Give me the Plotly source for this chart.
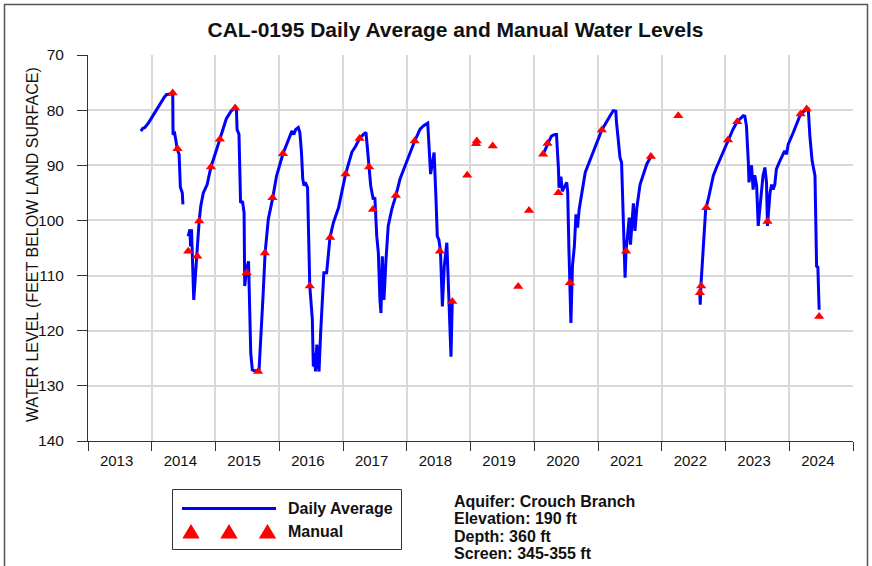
import pandas as pd
import plotly.graph_objects as go

# ---------------- data (decimal years) ----------------
daily_years = [
    2013.83, 2013.86, 2013.89, 2013.95, 2014.02, 2014.09, 2014.155, 2014.20, 2014.23, 2014.31, 2014.33,
    2014.335, 2014.36, 2014.38, 2014.40, 2014.43, 2014.45, 2014.48, 2014.49,
    None,
    2014.573, 2014.60, 2014.61, 2014.625, 2014.66, 2014.68, 2014.70, 2014.72, 2014.745, 2014.77, 2014.81,
    2014.87, 2014.93, 2015.02, 2015.07, 2015.17, 2015.25, 2015.305, 2015.33, 2015.34, 2015.37, 2015.395,
    2015.425, 2015.45, 2015.46, 2015.49, 2015.52, 2015.53, 2015.555, 2015.58, 2015.62, 2015.685, 2015.72,
    2015.75, 2015.78, 2015.83, 2015.90, 2015.96, 2016.06, 2016.14, 2016.20, 2016.23, 2016.26, 2016.30,
    2016.325, 2016.35, 2016.37, 2016.39, 2016.41, 2016.445, 2016.47, 2016.48, 2016.52, 2016.535, 2016.55,
    2016.57, 2016.59, 2016.625, 2016.65, 2016.70, 2016.744, 2016.796, 2016.85, 2016.93, 2017.04, 2017.14,
    2017.20, 2017.26, 2017.32, 2017.36, 2017.38, 2017.41, 2017.435, 2017.475, 2017.50, 2017.53, 2017.555,
    2017.58, 2017.596, 2017.617, 2017.643, 2017.675, 2017.71, 2017.765, 2017.83, 2017.895, 2018.00,
    2018.125, 2018.21, 2018.26, 2018.33, 2018.35, 2018.375, 2018.405, 2018.43, 2018.46, 2018.48, 2018.505,
    2018.53, 2018.56, 2018.59, 2018.63, 2018.65, 2018.68, 2018.695, 2018.715,
    None,
    2020.14, 2020.21, 2020.27, 2020.325, 2020.35, 2020.38, 2020.39, 2020.42, 2020.44, 2020.51, 2020.525,
    2020.545, 2020.56, 2020.576, 2020.60, 2020.63, 2020.655, 2020.68, 2020.705, 2020.745, 2020.80, 2020.85,
    2021.06, 2021.19, 2021.24, 2021.28, 2021.29, 2021.32, 2021.345, 2021.37, 2021.40, 2021.41, 2021.425,
    2021.44, 2021.46, 2021.49, 2021.51, 2021.555, 2021.58, 2021.61, 2021.66, 2021.70, 2021.765, 2021.83,
    None,
    2022.595, 2022.605, 2022.615, 2022.65, 2022.69, 2022.73, 2022.81, 2022.86, 2022.94, 2023.04, 2023.12,
    2023.185, 2023.28, 2023.305, 2023.33, 2023.36, 2023.37, 2023.41, 2023.435, 2023.46, 2023.49, 2023.515,
    2023.57, 2023.59, 2023.62, 2023.645, 2023.66, 2023.70, 2023.725, 2023.75, 2023.775, 2023.80, 2023.855,
    2023.93, 2023.96, 2023.985, 2024.065, 2024.18, 2024.275, 2024.30, 2024.325, 2024.36, 2024.405, 2024.43,
    2024.45, 2024.47,
]
daily_levels = [
    83.8, 83.3, 83.2, 82.3, 81.0, 79.6, 78.3, 77.6, 77.2, 77.1, 77.0,
    84.4, 84.2, 85.5, 87.1, 88.0, 94.0, 95.0, 97.1,
    None,
    102.9, 101.6, 104.7, 101.6, 114.4, 110.7, 108.3, 105.3, 100.1, 97.4, 95.0,
    93.5, 90.3, 87.1, 85.3, 81.6, 80.1, 79.7, 79.8, 83.5, 84.4, 96.8,
    96.5, 98.6, 111.9, 108.9, 107.4, 111.9, 124.1, 127.1, 127.3, 127.1, 120.4,
    113.2, 105.9, 99.8, 95.9, 91.9, 87.9, 85.6, 83.8, 84.4, 83.5, 83.15,
    84.05, 87.7, 92.5, 93.7, 93.1, 94.05, 110.7, 111.9, 118.0, 126.5, 124.0,
    127.4, 122.5, 127.4, 120.4, 109.5, 109.5, 103.1, 100.4, 97.7, 91.6, 87.6,
    86.5, 85.15, 84.4, 84.05, 86.5, 90.3, 93.7, 96.2, 95.8, 102.85, 105.9,
    114.4, 116.8, 106.5, 114.4, 107.1, 101.0, 98.0, 95.5, 92.5, 89.2,
    85.6, 83.45, 82.85, 82.35, 86.5, 91.6, 89.5, 87.7, 96.2, 102.85, 103.5,
    105.6, 115.6, 108.3, 104.05, 110.7, 121.0, 124.7, 114.7,
    None,
    88.0, 86.05, 84.7, 84.4, 84.4, 90.4, 94.05, 92.05, 94.7, 93.1, 94.7,
    105.3, 111.3, 118.6, 108.3, 104.7, 98.9, 101.3, 98.0, 95.0, 91.3, 89.8,
    83.6, 81.0, 80.1, 80.2, 82.2, 85.6, 88.6, 89.5, 99.2, 104.7, 110.4,
    105.6, 103.1, 99.5, 104.4, 96.9, 101.9, 97.7, 93.5, 92.2, 89.8, 88.4,
    None,
    112.5, 115.3, 111.9, 105.3, 98.0, 96.2, 91.9, 90.4, 88.3, 85.4, 83.45,
    82.1, 81.0, 81.1, 82.85, 89.5, 93.1, 90.0, 94.4, 91.8, 93.7, 101.0,
    94.4, 91.9, 90.4, 93.1, 101.0, 95.0, 93.5, 94.4, 93.5, 90.7, 89.2,
    87.4, 88.0, 86.2, 84.05, 80.7, 79.8, 79.8, 84.7, 89.2, 91.9, 108.3,
    108.5, 116.2,
]

manual_years = [
    2014.33, 2014.405, 2014.573, 2014.715, 2014.746, 2014.93, 2015.07, 2015.31, 2015.49, 2015.67,
    2015.776, 2015.896, 2016.06, 2016.48, 2016.80, 2017.04, 2017.26, 2017.41, 2017.47, 2017.83,
    2018.125, 2018.52, 2018.715, 2018.95, 2019.09, 2019.10, 2019.35, 2019.75, 2019.92, 2020.14,
    2020.21, 2020.38, 2020.56, 2021.06, 2021.44, 2021.83, 2022.26, 2022.60, 2022.62, 2022.70,
    2023.04, 2023.185, 2023.66, 2024.18, 2024.275, 2024.47,
]
manual_levels = [
    76.9, 87.0, 105.6, 106.5, 100.1, 90.3, 85.3, 79.6, 109.5, 127.4,
    105.9, 95.9, 87.9, 111.9, 103.1, 91.6, 85.15, 90.3, 98.0, 95.5,
    85.6, 105.6, 114.7, 91.8, 86.1, 85.6, 86.5, 112.0, 98.2, 88.0,
    86.05, 95.0, 111.3, 83.6, 105.6, 88.4, 81.0, 113.1, 111.9, 97.7,
    85.4, 82.1, 100.2, 80.7, 79.8, 117.4,
]

tick_years = list(range(2013, 2025))
year_start = "2013-01-01"
year_end = "2025-01-01"
y_range = [140, 70]

title_text = "CAL-0195 Daily Average and Manual Water Levels"
y_title = "WATER LEVEL (FEET BELOW LAND SURFACE)"
legend_labels = ["Daily Average", "Manual"]
info_lines = ["Aquifer: Crouch Branch", "Elevation: 190 ft", "Depth: 360 ft", "Screen: 345-355 ft"]


def to_date(v):
    if v is None:
        return None
    y = int(v)
    a = pd.Timestamp(year=y, month=1, day=1)
    b = pd.Timestamp(year=y + 1, month=1, day=1)
    return a + (b - a) * (v - y)


FONT = "Liberation Sans, Arial, sans-serif"
W, H = 872, 566
SX0, SX1, SY0, SY1 = 88, 853, 55, 441  # plot area in pixels
L, R, T, B = SX0, W - SX1, SY0, H - SY1
PW, PH = SX1 - SX0, SY1 - SY0


def px(x):
    return (x - SX0) / PW


def py(y):
    return (SY1 - y) / PH


fig = go.Figure()
fig.add_trace(go.Scatter(
    x=[to_date(v) for v in daily_years], y=daily_levels, mode="lines",
    line=dict(color="#0000ff", width=3), connectgaps=False, showlegend=False,
    name=legend_labels[0],
))
fig.add_trace(go.Scatter(
    x=[to_date(v) for v in manual_years], y=manual_levels, mode="markers",
    marker=dict(symbol="triangle-up", size=9, color="#ff0000", line=dict(width=0)),
    showlegend=False, name=legend_labels[1],
))

shapes = []
# outer frame
shapes.append(dict(type="rect", xref="paper", yref="paper",
                   x0=px(4.5), x1=px(867.5), y0=py(580), y1=py(4.5),
                   line=dict(color="#555555", width=1.5), fillcolor="rgba(0,0,0,0)", layer="below"))
# legend box
shapes.append(dict(type="rect", xref="paper", yref="paper",
                   x0=px(172.5), x1=px(401.5), y0=py(549.5), y1=py(489.5),
                   line=dict(color="#333333", width=1), fillcolor="white"))
shapes.append(dict(type="line", xref="paper", yref="paper",
                   x0=px(182), x1=px(276), y0=py(508.5), y1=py(508.5),
                   line=dict(color="#0000ff", width=3)))
for cx in (191, 229, 267.5):
    x0, x1, xc = px(cx - 8.7), px(cx + 8.7), px(cx)
    yb, yt = py(538.5), py(524)
    shapes.append(dict(type="path", xref="paper", yref="paper",
                       path=f"M {x0},{yb} L {x1},{yb} L {xc},{yt} Z",
                       fillcolor="#ff0000", line=dict(width=0)))

annotations = [
    dict(text=f"<b>{legend_labels[0]}</b>", x=px(286), y=py(508), xref="paper", yref="paper",
         xanchor="left", yanchor="middle", showarrow=False, font=dict(size=16, color="#111", family=FONT)),
    dict(text=f"<b>{legend_labels[1]}</b>", x=px(286), y=py(531), xref="paper", yref="paper",
         xanchor="left", yanchor="middle", showarrow=False, font=dict(size=16, color="#111", family=FONT)),
    dict(text=y_title, textangle=-90, x=px(32), y=py(245), xref="paper", yref="paper",
         xanchor="center", yanchor="middle", showarrow=False, font=dict(size=16, color="#111", family=FONT)),
]
for i, t in enumerate(info_lines):
    annotations.append(dict(text=f"<b>{t}</b>", x=px(452), y=py(501 + 17.5 * i), xref="paper", yref="paper",
                            xanchor="left", yanchor="middle", showarrow=False,
                            font=dict(size=16, color="#111", family=FONT)))

fig.update_layout(
    width=W, height=H,
    margin=dict(l=L, r=R, t=T, b=B, pad=0, autoexpand=False),
    paper_bgcolor="white", plot_bgcolor="white",
    font=dict(family=FONT, size=16, color="#111"),
    title=dict(text=f"<b>{title_text}</b>", x=px(455.5), xref="paper", xanchor="center",
               y=1 - 29.5 / H, yref="container", yanchor="middle",
               font=dict(size=21, color="#111", family=FONT), automargin=False),
    shapes=shapes, annotations=annotations,
    showlegend=False,
)
fig.update_xaxes(
    type="date", range=[year_start, year_end],
    tickmode="array", tickvals=[f"{y}-06-14" for y in tick_years], ticktext=[str(y) for y in tick_years],
    ticks="", showgrid=False,
    minor=dict(tickmode="linear", dtick="M12", tick0=year_start, ticks="outside", ticklen=9,
               tickwidth=1, tickcolor="#333", showgrid=True, gridcolor="#d9d9d9", gridwidth=1.5),
    showline=True, linecolor="#333", linewidth=1, zeroline=False, automargin=False,
    ticklabelstandoff=6,
    tickfont=dict(size=15, color="#111", family=FONT),
)
fig.update_yaxes(
    range=y_range, dtick=10, tick0=70, ticks="outside", ticklen=10, tickwidth=1,
    tickcolor="#333", showline=True, linecolor="#333", linewidth=1,
    showgrid=True, gridcolor="#d9d9d9", gridwidth=1.5, zeroline=False, automargin=False,
    ticklabelstandoff=10,
    tickfont=dict(size=15.5, color="#111", family=FONT),
)

fig.write_html("out.html", config={"displayModeBar": False},
               post_script="document.body.style.margin='0px';")
